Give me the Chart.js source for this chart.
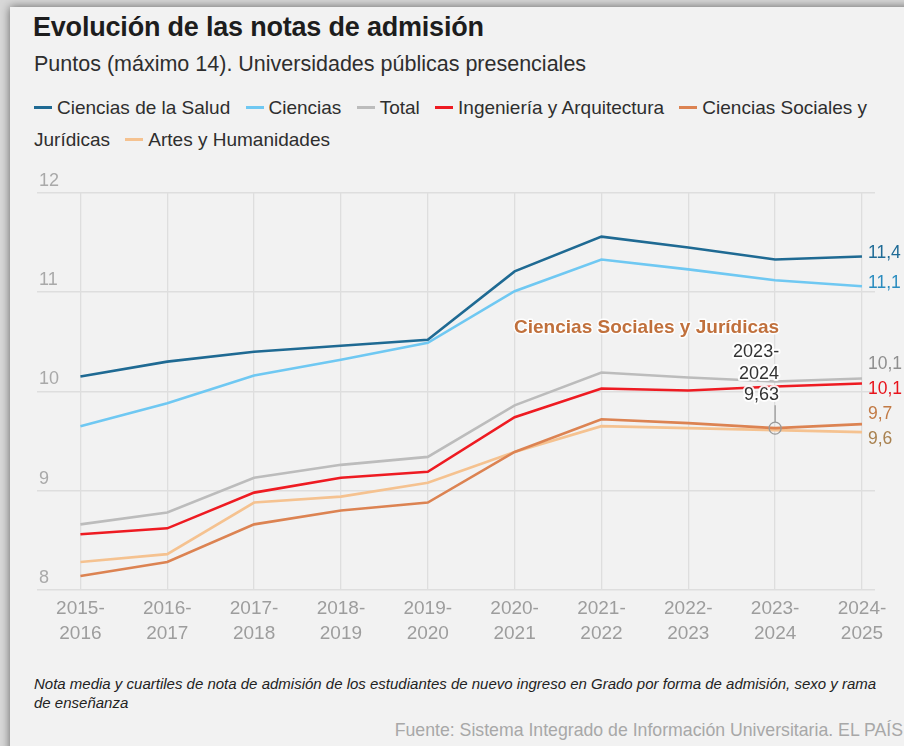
<!DOCTYPE html>
<html lang="es">
<head>
<meta charset="utf-8">
<title>Evolución de las notas de admisión</title>
<script src="https://cdn.jsdelivr.net/npm/chart.js@4.4.1/dist/chart.umd.min.js"></script>
<style>
  html, body { margin: 0; padding: 0; width: 904px; height: 746px; overflow: hidden; background: #d8d8d8;
    font-family: "Liberation Sans", Arial, sans-serif; }
  #card { position: absolute; left: 10px; top: 7px; width: 1000px; height: 800px; background: #f2f2f2;
    box-shadow: 0 0 9px rgba(0,0,0,.55); }
  #title { position: absolute; left: 33px; top: 11px; font-size: 27px; font-weight: bold; color: #1d1d1d;
    line-height: 32px; letter-spacing: -0.2px; }
  #subtitle { position: absolute; left: 34px; top: 52px; font-size: 21.5px; color: #2e2e2e; line-height: 24px; }
  #legend { position: absolute; left: 34px; top: 92px; width: 850px; font-size: 19px; color: #2e2e2e; line-height: 32px; }
  #legend .item { margin-right: 10px; }
  #legend .mark { display: inline-block; width: 18px; height: 3px; vertical-align: middle; margin-right: 5px; position: relative; top: -1px; }
  #chartBox { position: absolute; left: 0; top: 150px; width: 904px; height: 510px; }
  #note { position: absolute; left: 34px; top: 674px; width: 862px; font-size: 15px; font-style: italic; color: #222; line-height: 19px; }
  #source { position: absolute; right: 1px; top: 719px; font-size: 17.7px; color: #a8a8a8; line-height: 22px; white-space: nowrap; }
</style>
</head>
<body>
<div id="card"></div>
<div id="title">Evolución de las notas de admisión</div>
<div id="subtitle">Puntos (máximo 14). Universidades públicas presenciales</div>
<div id="legend"></div>
<div id="chartBox"><canvas id="myChart"></canvas></div>
<div id="note">Nota media y cuartiles de nota de admisión de los estudiantes de nuevo ingreso en Grado por forma de admisión, sexo y rama de enseñanza</div>
<div id="source">Fuente: Sistema Integrado de Información Universitaria. EL PAÍS</div>

<script>
// categories (academic years, two lines each)
const categories = [
    ["2015-", "2016"], ["2016-", "2017"], ["2017-", "2018"], ["2018-", "2019"], ["2019-", "2020"],
    ["2020-", "2021"], ["2021-", "2022"], ["2022-", "2023"], ["2023-", "2024"], ["2024-", "2025"]
];

const seriesNames = [
    "Ciencias de la Salud", "Ciencias", "Total", "Ingeniería y Arquitectura",
    "Ciencias Sociales y Jurídicas", "Artes y Humanidades"
];

// values
const saludValues      = [10.15, 10.30, 10.40, 10.46, 10.52, 11.21, 11.56, 11.45, 11.33, 11.36];
const cienciasValues   = [9.65, 9.88, 10.16, 10.32, 10.49, 11.01, 11.33, 11.23, 11.12, 11.06];
const totalValues      = [8.66, 8.78, 9.13, 9.26, 9.34, 9.86, 10.19, 10.14, 10.10, 10.13];
const ingenieriaValues = [8.56, 8.62, 8.98, 9.13, 9.19, 9.74, 10.03, 10.01, 10.05, 10.08];
const socialesValues   = [8.14, 8.28, 8.66, 8.80, 8.88, 9.39, 9.72, 9.68, 9.63, 9.67];
const artesValues      = [8.28, 8.36, 8.88, 8.94, 9.08, 9.39, 9.65, 9.63, 9.61, 9.59];

const yTicks = [8, 9, 10, 11, 12];

const lineColors  = ["#1f6a93", "#6fc8f2", "#bcbcbc", "#ee1b22", "#dc8352", "#f5c290"];
const labelColors = ["#1f6b96", "#2a8cbf", "#8f8f8f", "#e8141c", "#c27a45", "#a8814f"];

// highlighted point (tooltip): series index and category index
const highlightSeries = 4;
const highlightIndex = 8;

const allValues = [saludValues, cienciasValues, totalValues, ingenieriaValues, socialesValues, artesValues];

const FONT = '"Liberation Sans", Arial, sans-serif';

function fmt(v, d) {
    return v.toFixed(d).replace(".", ",");
}

// HTML legend
const legendEl = document.getElementById("legend");
seriesNames.forEach(function (name, i) {
    const span = document.createElement("span");
    span.className = "item";
    span.innerHTML = '<span class="mark" style="background:' + lineColors[i] + '"></span>' + name;
    legendEl.appendChild(span);
    legendEl.appendChild(document.createTextNode(" "));
});

// labels at the end of each line, spread apart when they collide
const endLabels = {
    id: "endLabels",
    afterDatasetsDraw: function (chart) {
        const ctx = chart.ctx;
        const gap = 25;
        const items = chart.data.datasets.map(function (ds, i) {
            const last = ds.data.length - 1;
            const pt = chart.getDatasetMeta(i).data[last];
            return { x: pt.x, y: pt.y, ly: pt.y, text: fmt(ds.data[last].y, 1), color: labelColors[i] };
        });
        const sorted = items.slice().sort(function (a, b) { return a.y - b.y; });
        for (let k = 0; k < 60; k++) {
            for (let i = 1; i < sorted.length; i++) {
                const d = sorted[i].ly - sorted[i - 1].ly;
                if (d < gap) {
                    const m = (gap - d) / 2;
                    sorted[i].ly += m;
                    sorted[i - 1].ly -= m;
                }
            }
        }
        ctx.save();
        ctx.font = "17.5px " + FONT;
        ctx.textAlign = "left";
        ctx.textBaseline = "middle";
        items.forEach(function (it) {
            ctx.fillStyle = it.color;
            ctx.fillText(it.text, it.x + 6, it.ly - 3);
        });
        ctx.restore();
    }
};

// fixed tooltip-like annotation on the highlighted point
const highlightNote = {
    id: "highlightNote",
    afterDatasetsDraw: function (chart) {
        const ctx = chart.ctx;
        const pt = chart.getDatasetMeta(highlightSeries).data[highlightIndex];
        const value = allValues[highlightSeries][highlightIndex];
        const x = pt.x, y = pt.y;
        ctx.save();
        ctx.strokeStyle = "#9a9a9a";
        ctx.lineWidth = 1.3;
        ctx.beginPath();
        ctx.arc(x, y, 6, 0, Math.PI * 2);
        ctx.stroke();
        ctx.beginPath();
        ctx.moveTo(x, y - 6);
        ctx.lineTo(x, y - 23);
        ctx.stroke();

        const right = x + 4;
        ctx.textAlign = "right";
        ctx.textBaseline = "middle";
        ctx.lineJoin = "round";

        const lines = categories[highlightIndex].concat([fmt(value, 2)]);
        ctx.font = "18px " + FONT;
        lines.forEach(function (t, i) {
            const ly = y - 33 - (lines.length - 1 - i) * 21.5;
            ctx.strokeStyle = "rgba(255,255,255,0.9)";
            ctx.lineWidth = 4;
            ctx.strokeText(t, right, ly);
            ctx.fillStyle = "#333333";
            ctx.fillText(t, right, ly);
        });

        ctx.font = "bold 19px " + FONT;
        const ty = y - 100;
        ctx.strokeStyle = "rgba(255,255,255,0.9)";
        ctx.lineWidth = 3;
        ctx.strokeText(seriesNames[highlightSeries], right, ty);
        ctx.fillStyle = "#c0703c";
        ctx.fillText(seriesNames[highlightSeries], right, ty);
        ctx.restore();
    }
};

const datasets = seriesNames.map(function (name, i) {
    return {
        label: name,
        data: allValues[i].map(function (v, j) { return { x: j, y: v }; }),
        borderColor: lineColors[i],
        backgroundColor: lineColors[i],
        borderWidth: 2.6,
        pointRadius: 0,
        pointHoverRadius: 0,
        tension: 0
    };
});

new Chart(document.getElementById("myChart"), {
    type: "line",
    data: { datasets: datasets },
    plugins: [endLabels, highlightNote],
    options: {
        responsive: true,
        maintainAspectRatio: false,
        animation: false,
        events: [],
        layout: { padding: { left: 33, right: 29, top: 43, bottom: 8 } },
        plugins: {
            legend: { display: false },
            tooltip: { enabled: false },
            title: { display: false }
        },
        scales: {
            x: {
                type: "linear",
                min: -0.5,
                max: 9.15,
                afterBuildTicks: function (axis) {
                    axis.ticks = categories.map(function (c, i) { return { value: i }; });
                },
                border: { display: false },
                grid: { color: "#dedede", lineWidth: 1.3, drawTicks: false },
                ticks: {
                    autoSkip: false,
                    maxRotation: 0,
                    padding: 6,
                    color: "#9d9d9d",
                    font: { family: FONT, size: 19, lineHeight: 1.32 },
                    callback: function (v) { return categories[v]; }
                }
            },
            y: {
                min: 8,
                max: 12,
                afterBuildTicks: function (axis) {
                    axis.ticks = yTicks.map(function (v) { return { value: v }; });
                },
                border: { display: false },
                grid: { color: "#dedede", lineWidth: 1.6, drawTicks: false },
                ticks: {
                    mirror: true,
                    padding: 2,
                    labelOffset: -12,
                    color: "#a9a9a9",
                    font: { family: FONT, size: 18 },
                    callback: function (v) { return String(v); }
                }
            }
        }
    }
});
</script>
</body>
</html>
